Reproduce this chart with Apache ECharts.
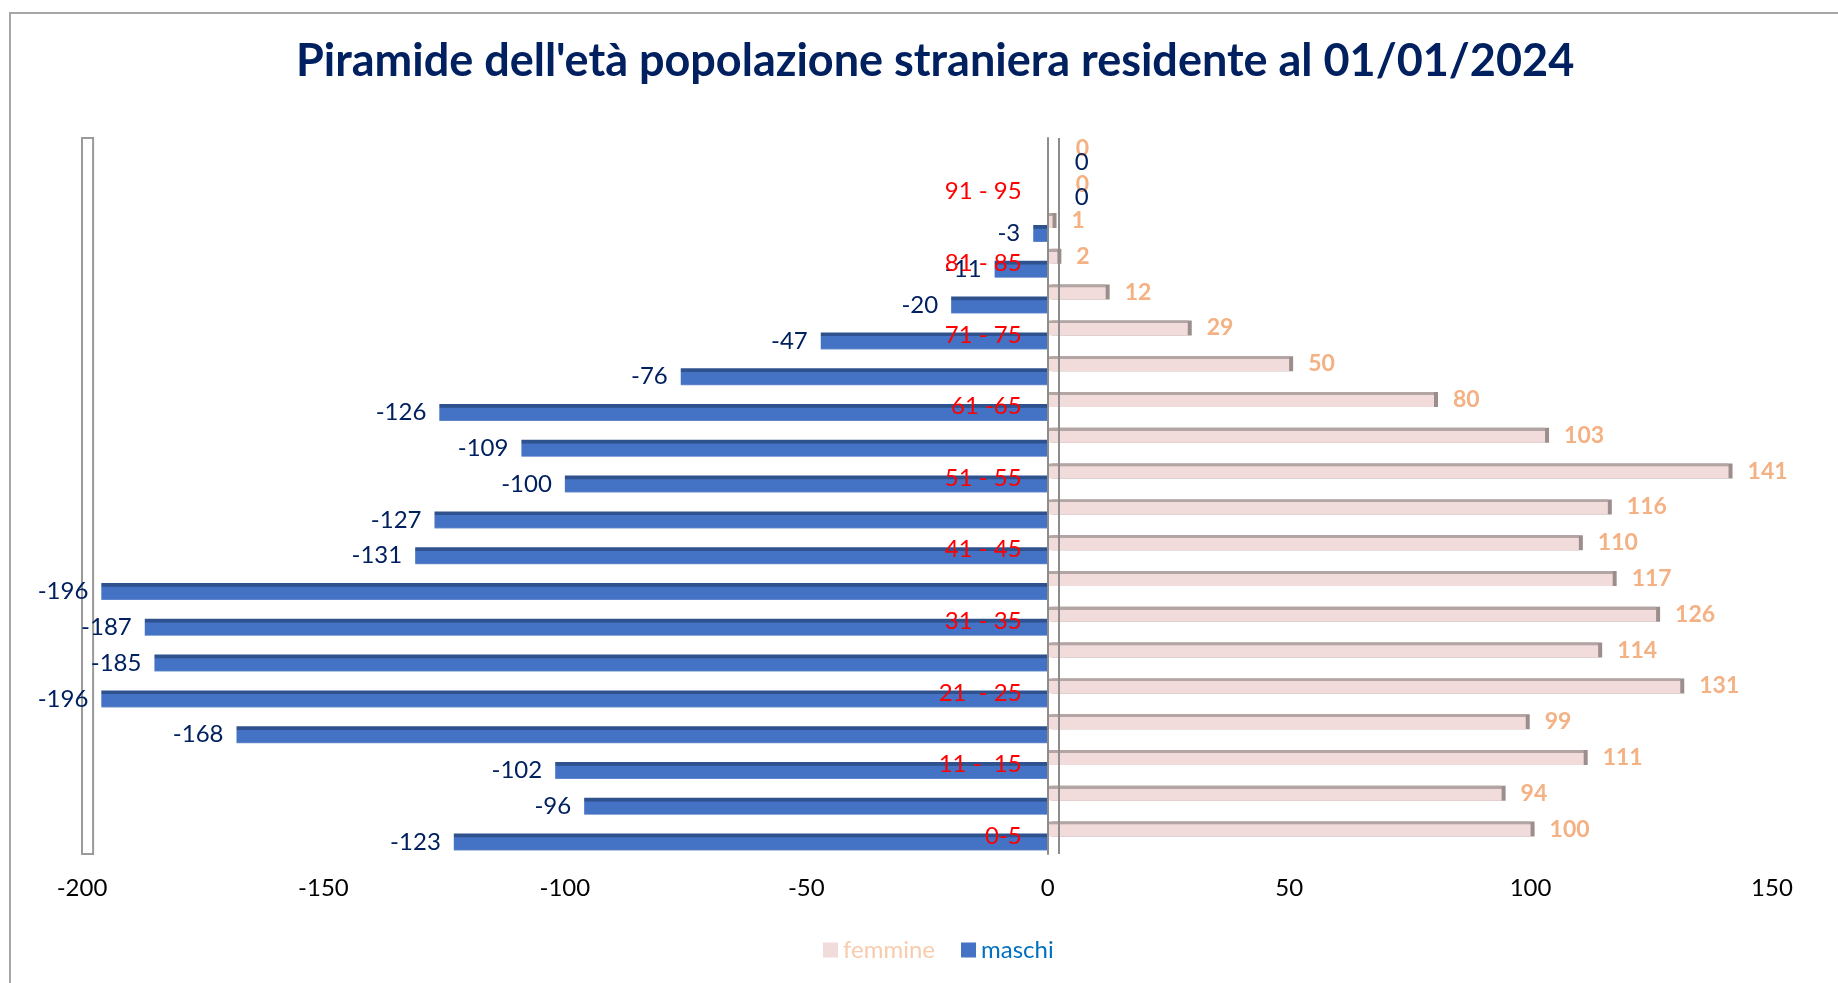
<!DOCTYPE html>
<html>
<head>
<meta charset="utf-8">
<title>Piramide dell'età</title>
<script src="https://cdn.jsdelivr.net/npm/echarts@6/dist/echarts.min.js"></script>
<style>
    body { margin: 0; background: #fff; }
    #chart { width: 1838px; height: 983px; }
    #frame {
        position: absolute; left: 9px; top: 12px; width: 1840px; height: 980px;
        border-left: 2px solid #A6A6A6; border-top: 2px solid #A6A6A6;
        pointer-events: none;
    }
</style>
</head>
<body>
<div id="chart"></div>
<div id="frame"></div>
<script>
    // classi di età, dal basso verso l'alto
    const ageClasses = ['0-5', '6 - 10', '11 -  15', '16 - 20', '21  - 25', '26 - 30', '31 - 35', '36 - 40',
        '41 - 45', '46 - 50', '51 - 55', '56 - 60', '61 -65', '66 - 70', '71 - 75', '76 - 80',
        '81 - 85', '86 - 90', '91 - 95', '96 - 100'];
    const maschi = [-123, -96, -102, -168, -196, -185, -187, -196, -131, -127,
        -100, -109, -126, -76, -47, -20, -11, -3, 0, 0];
    const femmine = [100, 94, 111, 99, 131, 114, 126, 117, 110, 116,
        141, 103, 80, 50, 29, 12, 2, 1, 0, 0];
    const xTicks = { min: -200, max: 150, step: 50 };

    const gridLeft = 82;
    const gridRight = 66;
    // l'asse delle classi sta sullo zero: spostato di quanto dista lo zero dal bordo sinistro
    const zeroOffset = (1838 - gridLeft - gridRight) * (0 - xTicks.min) / (xTicks.max - xTicks.min);

    let myChart = echarts.init(document.getElementById('chart'));

    let option = {
        animation: false,
        textStyle: { fontFamily: 'Lato' },
        title: {
            text: "Piramide dell'età popolazione straniera residente al 01/01/2024",
            left: 291,
            top: 34,
            textStyle: {
                color: '#002060',
                fontSize: 45,
                fontWeight: 'bold',
                fontFamily: 'Lato'
            }
        },
        legend: {
            data: [
                { name: 'femmine', itemStyle: { color: '#F2DCDB', shadowColor: 'rgba(0,0,0,0)' } },
                { name: 'maschi', itemStyle: { color: '#4472C4' } }
            ],
            left: 818,
            bottom: 16,
            itemWidth: 15,
            itemHeight: 15,
            itemGap: 26,
            icon: 'rect',
            formatter: function (name) {
                return '{' + name + '|' + name + '}';
            },
            textStyle: {
                fontSize: 24,
                rich: {
                    femmine: { color: '#F8CBAD', fontSize: 24, fontFamily: 'Lato' },
                    maschi: { color: '#0070C0', fontSize: 24, fontFamily: 'Lato' }
                }
            }
        },
        grid: {
            left: gridLeft,
            right: gridRight,
            top: 138,
            bottom: 129,
            containLabel: false,
            outerBoundsMode: 'none'
        },
        xAxis: {
            type: 'value',
            min: xTicks.min,
            max: xTicks.max,
            interval: xTicks.step,
            axisLine: { show: false },
            axisTick: { show: false },
            splitLine: { show: false },
            axisLabel: {
                color: '#000',
                fontSize: 24,
                margin: 22
            }
        },
        yAxis: {
            type: 'category',
            data: ageClasses,
            z: 10,
            position: 'left',
            offset: -zeroOffset,
            axisLine: {
                onZero: false,
                lineStyle: { color: '#8C8C8C', width: 2 }
            },
            axisTick: { show: false },
            splitLine: { show: false },
            axisLabel: {
                interval: 1,
                color: '#FF0000',
                fontSize: 24,
                margin: 26,
                padding: [18, 0, 0, 0]
            }
        },
        series: [
            {
                name: 'femmine',
                type: 'bar',
                barWidth: 15,
                barGap: '-20%',
                data: femmine.map(function (v) {
                    return v === 0 ? { value: v, label: { distance: 28 } } : v;
                }),
                itemStyle: {
                    color: new echarts.graphic.LinearGradient(0, 0, 0, 1, [
                        { offset: 0, color: '#B3A5A4' },
                        { offset: 0.18, color: '#B3A5A4' },
                        { offset: 0.2, color: '#F2DCDB' },
                        { offset: 1, color: '#F2DCDB' }
                    ]),
                    shadowColor: '#9C8E8D',
                    shadowOffsetX: 4,
                    shadowBlur: 0
                },
                label: {
                    show: true,
                    position: 'right',
                    distance: 19,
                    color: '#F4B183',
                    fontWeight: 'bold',
                    fontSize: 23
                },
                markLine: {
                    silent: true,
                    symbol: 'none',
                    label: { show: false },
                    lineStyle: { color: '#8C8C8C', width: 2, type: 'solid' },
                    data: [{ xAxis: 2.3 }]
                }
            },
            {
                name: 'maschi',
                type: 'bar',
                barWidth: 17,
                data: maschi.map(function (v) {
                    return v === 0 ? { value: v, label: { position: 'right', distance: 27 } } : v;
                }),
                itemStyle: {
                    color: new echarts.graphic.LinearGradient(0, 0, 0, 1, [
                        { offset: 0, color: '#2F528F' },
                        { offset: 0.2, color: '#2F528F' },
                        { offset: 0.24, color: '#4472C4' },
                        { offset: 0.92, color: '#4472C4' },
                        { offset: 1, color: '#6F91D0' }
                    ])
                },
                label: {
                    show: true,
                    position: 'left',
                    distance: 13,
                    color: '#002060',
                    fontSize: 24
                },
                markArea: {
                    silent: true,
                    itemStyle: {
                        color: 'rgba(0,0,0,0)',
                        borderColor: '#9A9A9A',
                        borderWidth: 2
                    },
                    data: [[{ xAxis: -200 }, { xAxis: -197.7 }]]
                }
            }
        ]
    };
    myChart.setOption(option);
</script>
</body>
</html>
